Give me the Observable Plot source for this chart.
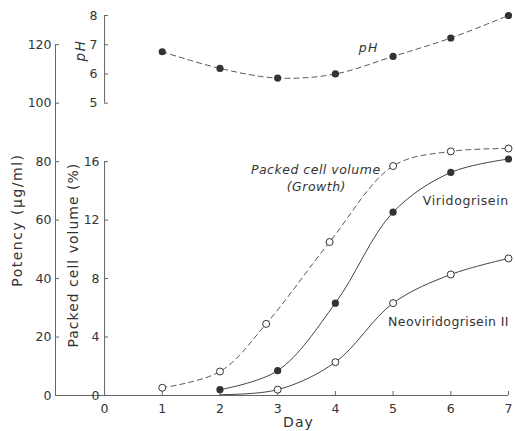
<!DOCTYPE html>
<html><head><meta charset="utf-8">
<script src="https://cdn.jsdelivr.net/npm/d3@7"></script>
<script src="https://cdn.jsdelivr.net/npm/@observablehq/plot@0.6"></script>
<style>body{margin:0;background:#fff} svg{display:block}</style>
</head><body><div id="chart"></div>
<script>
// ---- data ----
const days = [0, 1, 2, 3, 4, 5, 6, 7];
const potencyTicks = [0, 20, 40, 60, 80, 100, 120];
const pcvTicks = [0, 4, 8, 12, 16];
const pHTicks = [5, 6, 7, 8];

const pcvDays = [1, 2, 2.8, 3.9, 5, 6, 7];
const pcvValues = [0.53, 1.64, 4.9, 10.5, 15.7, 16.7, 16.9];      // Packed cell volume (%)

const virDays = [2, 3, 4, 5, 6, 7];
const virValues = [2, 8.5, 31.6, 62.7, 76.3, 80.9];               // Viridogrisein (µg/ml)

const neoDays = [2, 3, 4, 5, 6, 7];
const neoValues = [0.3, 2, 11.4, 31.6, 41.4, 46.9];               // Neoviridogrisein II (µg/ml)

const pHDays = [1, 2, 3, 4, 5, 6, 7];
const pHValues = [6.76, 6.19, 5.86, 6.0, 6.6, 7.23, 8.0];

// ---- mapping of secondary axes onto the potency scale ----
const fromPcv = v => v * 5;                 // 16 % <-> 80 µg/ml
const fromPH = v => 100 + (v - 5) * 10;     // pH 5 <-> 100, pH 8 <-> 130

const pcv = pcvDays.map((d, i) => ({day: d, y: fromPcv(pcvValues[i])}));
const vir = virDays.map((d, i) => ({day: d, y: virValues[i]}));
const neo = neoDays.map((d, i) => ({day: d, y: neoValues[i]}));
const ph = pHDays.map((d, i) => ({day: d, y: fromPH(pHValues[i])}));

const xMin = -0.85;
const ink = "#333";
const axisInk = "#666";
const pxX = 453 / (7 - xMin);   // px per day
const pxY = 380 / 130;          // px per µg/ml
const tx = 4 / pxX, ty = 4 / pxY;

const chart = Plot.plot({
  width: 515, height: 431,
  marginLeft: 55, marginRight: 7, marginTop: 15, marginBottom: 36,
  x: {domain: [xMin, 7], axis: null},
  y: {domain: [0, 130], axis: null},
  style: {fontFamily: "DejaVu Sans", background: "white", color: ink},
  marks: [
    // axis lines
    Plot.ruleY([0], {x1: xMin, x2: 7, stroke: axisInk}),
    Plot.ruleX([xMin], {y1: 0, y2: 120, stroke: axisInk}),
    Plot.ruleX([0], {y1: 0, y2: 80, stroke: axisInk}),
    Plot.ruleX([0], {y1: 100, y2: 130, stroke: axisInk}),
    // potency axis
    Plot.ruleY(potencyTicks, {y: d => d, x1: xMin, x2: xMin + tx, stroke: axisInk}),
    Plot.text(potencyTicks, {y: d => d, x: xMin, text: d => String(d), textAnchor: "end", dx: -4, fontSize: 12.5, fill: ink}),
    // PCV axis
    Plot.ruleY(pcvTicks, {y: d => fromPcv(d), x1: 0, x2: tx, stroke: axisInk}),
    Plot.text(pcvTicks, {y: d => fromPcv(d), x: 0, text: d => String(d), textAnchor: "end", dx: -5, fontSize: 12.5, fill: ink}),
    // pH axis
    Plot.ruleY(pHTicks, {y: d => fromPH(d), x1: 0, x2: tx, stroke: axisInk}),
    Plot.text(pHTicks, {y: d => fromPH(d), x: 0, text: d => String(d), textAnchor: "end", dx: -7, fontSize: 12.5, fill: ink}),
    // x axis
    Plot.ruleX(days.filter(d => d > 0), {x: d => d, y1: 0, y2: ty, stroke: axisInk}),
    Plot.text(days, {x: d => d, y: 0, text: d => String(d), dy: 13, fontSize: 12.5, fill: ink}),
    Plot.text(["Day"], {x: 3.36, y: 0, dy: 27, fontSize: 14, fill: ink}),
    // axis titles
    Plot.text(["Potency (\u03bcg/ml)"], {x: xMin, y: 60, dx: -38, rotate: -90, fontSize: 14, fill: ink}),
    Plot.text(["Packed cell volume (%)"], {x: 0, y: 48, dx: -31, rotate: -90, fontSize: 14, fill: ink}),
    Plot.text(["pH"], {x: 0, y: 118, dx: -24, rotate: -90, fontSize: 13.5, fontStyle: "italic", fill: ink}),
    // series lines
    Plot.line(pcv, {x: "day", y: "y", curve: "catmull-rom", stroke: "#555", strokeWidth: 1, strokeDasharray: "5,4"}),
    Plot.line(ph, {x: "day", y: "y", curve: "catmull-rom", stroke: "#555", strokeWidth: 1, strokeDasharray: "5,4"}),
    Plot.line(vir, {x: "day", y: "y", curve: "catmull-rom", stroke: "#444", strokeWidth: 1}),
    Plot.line(neo, {x: "day", y: "y", curve: "catmull-rom", stroke: "#444", strokeWidth: 1}),
    // markers
    Plot.dot(pcv, {x: "day", y: "y", r: 3.5, fill: "white", stroke: ink, strokeWidth: 1}),
    Plot.dot(neo.slice(1), {x: "day", y: "y", r: 3.5, fill: "white", stroke: ink, strokeWidth: 1}),
    Plot.dot(vir, {x: "day", y: "y", r: 3.6, fill: ink}),
    Plot.dot(ph, {x: "day", y: "y", r: 3.6, fill: ink}),
    // annotations
    Plot.text(["pH"], {x: 4.58, y: 119, fontSize: 12.5, fontStyle: "italic", fill: ink}),
    Plot.text(["Packed cell volume"], {x: 3.66, y: 77.3, fontSize: 12.5, fontStyle: "italic", fill: ink}),
    Plot.text(["(Growth)"], {x: 3.67, y: 71.2, fontSize: 12.5, fontStyle: "italic", fill: ink}),
    Plot.text(["Viridogrisein"], {x: 6.26, y: 66.4, fontSize: 12.5, fill: ink}),
    Plot.text(["Neoviridogrisein II"], {x: 5.96, y: 25, fontSize: 12.5, fill: ink})
  ]
});
// letter spacing to imitate the wide lettering of the original
const spacing = {
  "Potency (\u03bcg/ml)": 1.5,
  "Packed cell volume (%)": 1,
  "Packed cell volume": 0.5,
  "(Growth)": 0.5,
  "Viridogrisein": 0.6,
  "Neoviridogrisein II": 0.4,
  "Day": 1,
  "pH": 1.5
};
d3.select(chart).selectAll("text").each(function() {
  const s = spacing[this.textContent];
  if (s) this.setAttribute("letter-spacing", s);
});
document.getElementById("chart").appendChild(chart);
</script>
</body></html>
